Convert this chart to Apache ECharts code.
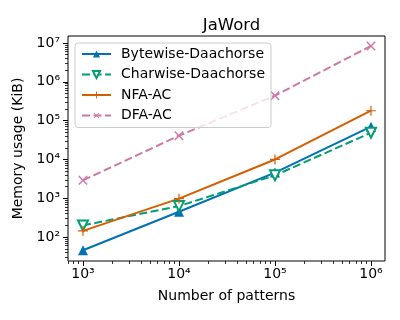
<!DOCTYPE html>
<html>
<head>
<meta charset="utf-8">
<script src="https://cdn.jsdelivr.net/npm/echarts@6/dist/echarts.min.js"></script>
<style>
  html, body { margin: 0; padding: 0; background: #fff; }
  #chart { width: 400px; height: 320px; }
</style>
</head>
<body>
<div id="chart"></div>
<script>
// number of patterns (x) and memory usage in KiB (y)
const patterns = [1e3, 1e4, 1e5, 1e6]
const bytewise = [46, 450, 4600, 70000]
const charwise = [200, 630, 3900, 49000]
const nfaAc = [145, 980, 10000, 180000]
const dfaAc = [2900, 41000, 440000, 8400000]

// decade exponents shown as tick labels
const xDecades = [3, 4, 5, 6]
const yDecades = [2, 3, 4, 5, 6, 7]

const X_MIN = 2.844, X_MAX = 6.146
const Y_MIN = 1.385, Y_MAX = 7.18

const FONT = 'DejaVu Sans'
const SUP = '⁰¹²³⁴⁵⁶⁷⁸⁹'
const pow10 = v => '10' + String(Math.round(v)).split('').map(d => SUP[+d]).join('')

function minorTicks(lo, hi) {
  const out = []
  for (let e = Math.floor(lo); e <= Math.ceil(hi); e++) {
    for (let k = 2; k <= 9; k++) {
      const v = e + Math.log10(k)
      if (v > lo && v < hi) out.push(v)
    }
  }
  return out
}

const pts = vals => patterns.map((p, i) => [Math.log10(p), Math.log10(vals[i])])

const chart = echarts.init(document.getElementById('chart'), null, { renderer: 'canvas' })

const tickStyle = { color: '#000', width: 1 }
const CROSS = 'path://M4.4,0H5.6V4.4H10V5.6H5.6V10H4.4V5.6H0V4.4H4.4Z'

const option = {
  animation: false,
  textStyle: { fontFamily: FONT },
  title: {
    text: 'JaWord',
    left: 226.5,
    top: 12,
    textAlign: 'center',
    textStyle: { fontFamily: FONT, fontSize: 16.5, fontWeight: 'normal', color: '#000' }
  },
  grid: {
    left: 68, right: 15, top: 36, bottom: 59,
    show: true, borderColor: '#000', borderWidth: 1, backgroundColor: 'transparent'
  },
  legend: {
    left: 75, top: 43,
    orient: 'vertical',
    itemWidth: 29, itemHeight: 9, itemGap: 6.5,
    padding: [4, 6, 5, 6],
    backgroundColor: 'rgba(255,255,255,0.8)',
    borderColor: '#cccccc', borderWidth: 1, borderRadius: 3,
    textStyle: { fontFamily: FONT, fontSize: 14, color: '#000', lineHeight: 14, padding: [0, 0, 0, 5] },
    data: ['Bytewise-Daachorse', 'Charwise-Daachorse', 'NFA-AC', 'DFA-AC']
  },
  xAxis: [
    {
      type: 'value', min: X_MIN, max: X_MAX,
      axisLine: { show: false },
      splitLine: { show: false },
      axisTick: { show: true, length: 5, customValues: xDecades, lineStyle: tickStyle },
      axisLabel: { customValues: xDecades, formatter: pow10, color: '#000', fontSize: 14, margin: 6, fontFamily: FONT },
      name: 'Number of patterns', nameLocation: 'middle', nameGap: 28,
      nameTextStyle: { fontFamily: FONT, fontSize: 14, color: '#000' }
    },
    {
      type: 'value', min: X_MIN, max: X_MAX, position: 'bottom',
      axisLine: { show: false },
      splitLine: { show: false },
      axisTick: { show: true, length: 3, customValues: minorTicks(X_MIN, X_MAX), lineStyle: { color: '#000', width: 0.8 } },
      axisLabel: { show: false }
    }
  ],
  yAxis: [
    {
      type: 'value', min: Y_MIN, max: Y_MAX,
      axisLine: { show: false },
      splitLine: { show: false },
      axisTick: { show: true, length: 5, customValues: yDecades, lineStyle: tickStyle },
      axisLabel: { customValues: yDecades, formatter: pow10, color: '#000', fontSize: 14, margin: 8, fontFamily: FONT },
      name: 'Memory usage (KiB)', nameLocation: 'middle', nameGap: 40,
      nameTextStyle: { fontFamily: FONT, fontSize: 14, color: '#000' }
    },
    {
      type: 'value', min: Y_MIN, max: Y_MAX, position: 'left',
      axisLine: { show: false },
      splitLine: { show: false },
      axisTick: { show: true, length: 3, customValues: minorTicks(Y_MIN, Y_MAX), lineStyle: { color: '#000', width: 0.8 } },
      axisLabel: { show: false }
    }
  ],
  series: [
    {
      name: 'Bytewise-Daachorse', type: 'line', data: pts(bytewise),
      symbol: 'triangle', symbolSize: 10,
      lineStyle: { color: '#0072B2', width: 2 },
      itemStyle: { color: '#0072B2' }
    },
    {
      name: 'Charwise-Daachorse', type: 'line', data: pts(charwise),
      symbol: 'emptyTriangle', symbolSize: 10, symbolRotate: 180,
      lineStyle: { color: '#009E73', width: 2, type: [8, 3.5] },
      itemStyle: { color: '#009E73', borderWidth: 1.3 }
    },
    {
      name: 'NFA-AC', type: 'line', data: pts(nfaAc),
      symbol: CROSS, symbolSize: 10,
      lineStyle: { color: '#D55E00', width: 2 },
      itemStyle: { color: '#D55E00' }
    },
    {
      name: 'DFA-AC', type: 'line', data: pts(dfaAc),
      symbol: CROSS, symbolSize: 12, symbolRotate: 45,
      lineStyle: { color: '#CC79A7', width: 2, type: [8, 3.5] },
      itemStyle: { color: '#CC79A7' }
    }
  ]
}

chart.setOption(option)
</script>
</body>
</html>
